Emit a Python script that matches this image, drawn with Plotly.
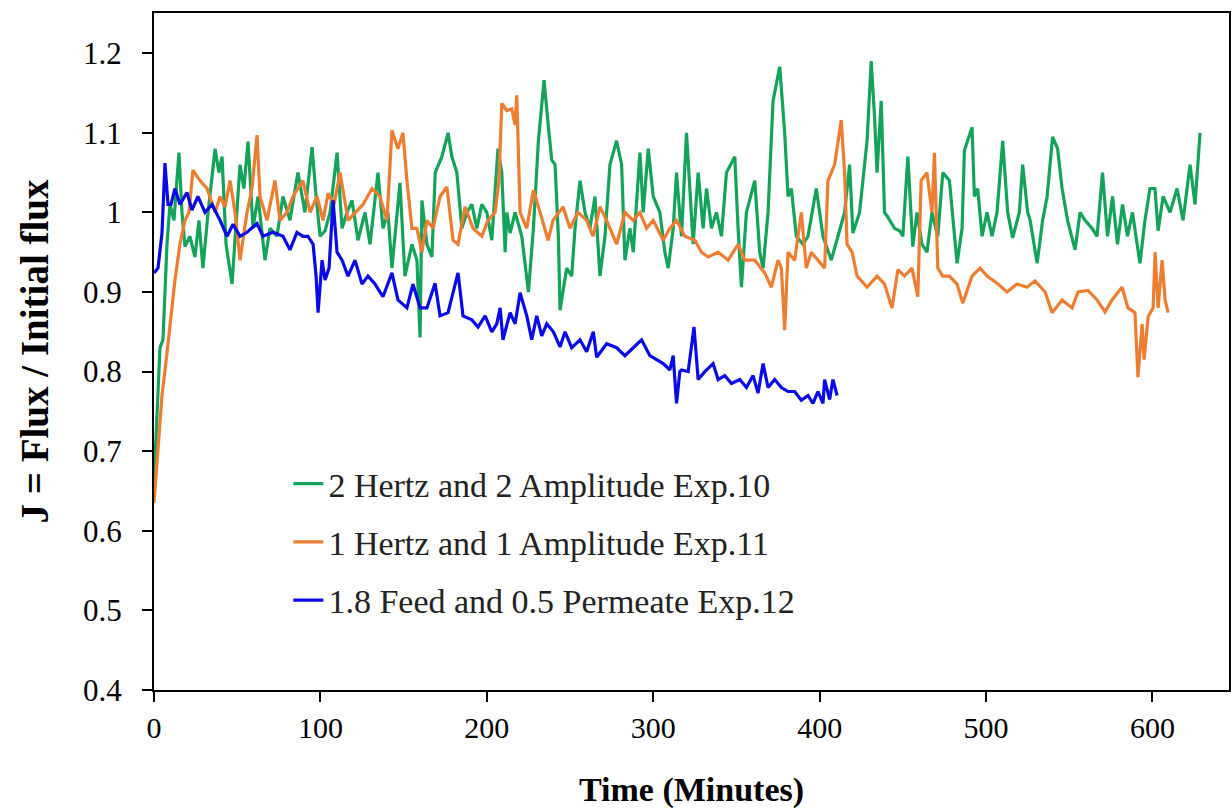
import plotly.graph_objects as go

# ---- Exp.10 : 2 Hertz and 2 Amplitude (green) ----
green_t = [0, 1.2, 3.6, 5.4, 7.8, 9.6, 12, 15, 16.8, 18.6, 21.6, 24.6, 27, 29.4, 32.5, 36.7, 39, 40.9, 43.3, 46.9,
           49.3, 51.7, 54, 56.5, 59.5, 62.5, 66.7, 69.7, 73.9, 77.5, 81.7, 86.5, 90.7, 95, 97.4, 99.8, 102.8, 105.8,
           110, 113, 116, 119, 122.6, 126.8, 129.8, 134.6, 137.6, 140.6, 143, 147.8, 150.8, 155, 158, 159.9, 161,
           164, 167, 169, 173, 176.7, 179, 182, 185, 188, 191, 194, 197, 200, 203, 206.7, 209, 211, 212, 214, 217,
           221, 225, 228, 231, 234.4, 236.8, 239, 241, 243, 244, 246.4, 248, 251, 253, 256, 259, 262, 265, 268,
           271, 274, 278, 281, 283, 286, 288, 292, 294, 297, 300, 304, 307, 309, 312, 314, 317, 320, 322, 324,
           327, 330, 332, 335, 338, 341, 344, 349, 351, 353, 356, 361, 364, 366, 369, 372, 376, 379, 381, 383,
           386, 390, 393, 398, 402, 407, 411, 415, 418, 420, 424, 428.5, 431, 433, 434.5, 437, 439, 441, 445,
           448, 450, 453, 456, 458.5, 461.5, 464.5, 467.5, 471, 474, 478, 482.6, 485.6, 487, 491.6, 493, 495,
           497.6, 500.6, 503.6, 506.6, 510, 513, 516, 520, 522, 525, 526.5, 530.7, 534, 536.7, 540, 543, 545.7,
           549, 553.5, 556.5, 559.5, 563.7, 566.7, 570, 573, 576, 579, 582, 585, 588, 592.5, 595.5, 598.5, 601.5,
           603.4, 606.4, 610.6, 614.8, 618.4, 622.6, 625.6, 628.6]
green_j = [0.66, 0.72, 0.83, 0.84, 0.96, 1.01, 0.99, 1.075, 1.0, 0.957, 0.97, 0.944, 0.99, 0.93, 1.0, 1.08, 1.05,
           1.07, 0.96, 0.91, 0.99, 1.06, 1.03, 1.089, 0.98, 1.02, 0.94, 0.98, 0.97, 1.02, 0.99, 1.05, 1.0, 1.082,
           1.02, 0.97, 0.977, 1.0, 1.075, 0.98, 1.0, 1.015, 0.965, 1.0, 0.96, 1.05, 0.98, 1.0, 0.93, 1.037, 0.92,
           0.96, 0.94, 0.843, 1.015, 0.96, 0.944, 1.05, 1.07, 1.10, 1.07, 1.05, 0.98, 1.0, 1.01, 0.98, 1.01, 1.0,
           0.965, 1.08, 1.05, 0.95, 1.0, 0.974, 1.0, 0.97, 0.90, 0.98, 1.09, 1.166, 1.112, 1.066, 1.06, 0.97,
           0.877, 0.91, 0.93, 0.92, 0.98, 1.04, 1.0, 0.98, 1.02, 0.92, 0.97, 1.06, 1.09, 1.06, 0.94, 0.98, 0.95,
           1.075, 1.0, 1.08, 1.02, 1.0, 0.95, 0.93, 0.98, 1.05, 0.97, 1.10, 1.03, 0.96, 1.05, 0.98, 1.03, 0.98,
           1.0, 0.97, 1.05, 1.07, 0.98, 0.906, 1.0, 1.04, 0.95, 0.93, 1.0, 1.14, 1.183, 1.1, 1.02, 1.03, 0.97,
           0.96, 0.97, 1.03, 0.97, 0.94, 0.97, 1.0, 1.06, 0.974, 1.0, 1.09, 1.19, 1.12, 1.05, 1.14, 1.0, 0.994,
           0.98, 0.977, 0.97, 1.07, 0.957, 1.0, 0.96, 0.95, 1.0, 0.97, 1.05, 1.04, 0.936, 0.98, 1.078, 1.107,
           1.02, 1.03, 0.97, 1.0, 0.97, 1.0, 1.09, 1.0, 0.968, 1.0, 1.06, 1.0, 0.99, 0.936, 0.99, 1.02, 1.095,
           1.08, 1.03, 0.99, 0.953, 1.0, 0.99, 0.98, 0.97, 1.05, 0.97, 1.02, 0.96, 1.01, 0.97, 1.0, 0.936, 0.99,
           1.03, 1.03, 0.977, 1.02, 1.0, 1.03, 0.99, 1.06, 1.01, 1.10]

# ---- Exp.11 : 1 Hertz and 1 Amplitude (orange) ----
orange_t = [0, 2.4, 4.8, 7.8, 10.2, 12.6, 15.6, 18.6, 21, 23.4, 27.6, 31.9, 36.7, 39.7, 42.7, 45.7, 48.7, 51.7,
            55.9, 58.9, 61.9, 63.7, 67.9, 72.7, 75.7, 79.9, 83.5, 89.5, 93.8, 98, 101.6, 104.6, 108.2, 111.8,
            116.6, 120.8, 125.6, 131, 135.8, 140, 143, 146.6, 149.6, 152, 155, 158, 161, 164, 167.7, 171.9, 176,
            179.7, 182.7, 186.9, 191.7, 197, 200.7, 205, 207.3, 209, 212, 215, 217, 218, 220, 224, 228, 232,
            236.8, 239.8, 245.8, 250, 254.8, 260, 263.8, 268, 272, 278, 283, 287.9, 292, 296, 300, 306, 310, 314,
            319, 325, 329, 333, 339, 345, 351, 355, 361, 367, 371, 375, 377, 379, 381, 385, 389, 392, 395, 399,
            403, 405, 409, 413, 415, 416.5, 419.5, 422.5, 428.5, 434.5, 439, 443.5, 447, 451, 455.5, 459, 461,
            464.5, 467.5, 469, 471, 474, 478, 482.6, 486, 491.6, 496.4, 500.6, 506.6, 512.6, 518.6, 524.6, 529.4,
            535.5, 539.7, 545.7, 551.7, 555.3, 561.3, 566.7, 571.5, 575.7, 581.7, 585.3, 589.5, 591.3, 593.8, 595,
            597.4, 600.4, 601.6, 603.4, 605.8, 607.6, 609.4]
orange_j = [0.635, 0.70, 0.77, 0.823, 0.87, 0.915, 0.96, 0.99, 1.0, 1.053, 1.04, 1.03, 1.0, 1.02, 1.007, 1.04,
            1.0, 0.94, 1.0, 1.03, 1.097, 1.02, 0.99, 1.04, 0.99, 1.0, 1.02, 1.04, 1.0, 1.02, 0.99, 1.024, 1.01,
            1.05, 0.99, 1.0, 1.01, 1.03, 1.02, 0.99, 1.103, 1.08, 1.1, 1.04, 0.98, 0.98, 0.95, 0.99, 0.98, 1.02,
            1.032, 0.965, 0.96, 1.007, 0.98, 0.97, 0.99, 1.0, 1.04, 1.137, 1.128, 1.13, 1.11, 1.147, 1.0, 0.98,
            1.028, 1.0, 0.965, 0.99, 1.007, 0.98, 1.0, 0.99, 0.97, 1.007, 0.99, 0.96, 1.0, 0.99, 1.0, 0.98, 0.99,
            0.965, 0.98, 0.99, 0.97, 0.965, 0.95, 0.944, 0.95, 0.94, 0.96, 0.94, 0.94, 0.924, 0.906, 0.94, 0.93,
            0.852, 0.95, 0.94, 1.0, 0.93, 0.95, 0.94, 0.93, 1.04, 1.06, 1.116, 1.05, 0.96, 0.95, 0.92, 0.906, 0.92,
            0.91, 0.88, 0.928, 0.92, 0.93, 0.894, 1.04, 1.05, 1.0, 1.075, 0.93, 0.92, 0.92, 0.91, 0.886, 0.92,
            0.93, 0.92, 0.911, 0.90, 0.91, 0.906, 0.914, 0.90, 0.874, 0.89, 0.88, 0.9, 0.902, 0.89, 0.875, 0.89,
            0.906, 0.88, 0.874, 0.793, 0.86, 0.815, 0.869, 0.88, 0.95, 0.88, 0.94, 0.89, 0.874]

# ---- Exp.12 : 1.8 Feed and 0.5 Permeate (blue) ----
blue_t = [0, 2.4, 4.8, 6.6, 8.4, 10.2, 12.6, 15.6, 19.8, 22.8, 26.4, 30.6, 34.9, 39.7, 43.9, 47.5, 51.7, 55.9,
          61.9, 65.5, 71.5, 77.5, 81.7, 85.9, 89.5, 92.5, 95.6, 97.4, 98.6, 101, 102.8, 105.2, 107.6, 110, 113,
          116.6, 120.8, 125, 128.6, 132.8, 137.6, 143, 146.6, 152, 155.6, 159.9, 164, 168.9, 171.9, 176.7, 182.7,
          185.7, 191, 194.7, 199, 203, 206, 208, 209.7, 214, 217, 220, 224, 227, 230, 233, 236, 240, 244, 247,
          251, 256, 260, 264, 266, 272, 278, 283, 288, 293, 298, 302, 306, 310, 312, 314, 316, 317, 321, 324.5,
          327, 331, 336, 339, 343, 347, 352, 356, 360, 363, 366, 369, 373, 377, 381, 385, 389, 393, 396, 399,
          402, 403, 406, 408, 410.5]
blue_j = [0.924, 0.93, 0.974, 1.062, 1.01, 1.01, 1.03, 1.01, 1.025, 1.003, 1.02, 1.0, 1.01, 0.99, 0.97, 0.985,
          0.97, 0.975, 0.986, 0.97, 0.975, 0.97, 0.953, 0.975, 0.97, 0.97, 0.96, 0.92, 0.874, 0.94, 0.915, 0.93,
          1.015, 0.95, 0.94, 0.92, 0.94, 0.91, 0.92, 0.91, 0.894, 0.924, 0.89, 0.88, 0.91, 0.88, 0.88, 0.911,
          0.87, 0.874, 0.924, 0.87, 0.865, 0.856, 0.87, 0.85, 0.86, 0.88, 0.84, 0.874, 0.86, 0.899, 0.87, 0.84,
          0.87, 0.845, 0.86, 0.85, 0.831, 0.85, 0.83, 0.84, 0.825, 0.85, 0.818, 0.835, 0.83, 0.82, 0.83, 0.84,
          0.82, 0.815, 0.81, 0.802, 0.82, 0.76, 0.80, 0.802, 0.80, 0.856, 0.79, 0.80, 0.81, 0.79, 0.795, 0.785,
          0.79, 0.78, 0.795, 0.773, 0.81, 0.78, 0.79, 0.78, 0.775, 0.775, 0.764, 0.77, 0.76, 0.775, 0.76, 0.79,
          0.765, 0.79, 0.77]

series_names = ["2 Hertz and 2 Amplitude Exp.10",
                "1 Hertz and 1 Amplitude Exp.11",
                "1.8 Feed and 0.5 Permeate Exp.12"]
series_colors = ["#14A35A", "#ED7D31", "#0A0AE6"]

x_ticks = [0, 100, 200, 300, 400, 500, 600]
y_ticks = [0.4, 0.5, 0.6, 0.7, 0.8, 0.9, 1.0, 1.1, 1.2]

FONT = "Times New Roman, Liberation Serif, serif"

fig = go.Figure()
for name, t, j, c in zip(series_names, [green_t, orange_t, blue_t], [green_j, orange_j, blue_j], series_colors):
    fig.add_trace(go.Scatter(x=t, y=j, mode="lines", name=name, legendgroup=name,
                             line=dict(color=c, width=3.2)))

fig.update_layout(
    width=1231, height=810,
    margin=dict(l=154, r=2, t=13, b=120, autoexpand=False),
    paper_bgcolor="white", plot_bgcolor="white",
    font=dict(family=FONT, color="black"),
    showlegend=True,
    legend=dict(x=0.125, y=0.347, xanchor="left", yanchor="top",
                bgcolor="rgba(0,0,0,0)", font=dict(family=FONT, size=34, color="#222"),
                tracegroupgap=11, itemwidth=30),
)
fig.update_xaxes(range=[0, 646], tickvals=x_ticks, ticks="outside", ticklen=10, tickwidth=2,
                 tickcolor="black", showline=True, linecolor="black", linewidth=2, mirror=True,
                 showgrid=False, zeroline=False, tickfont=dict(family=FONT, size=30),
                 title=dict(text="<b>Time (Minutes)</b>", font=dict(family=FONT, size=34), standoff=34))
fig.update_yaxes(range=[0.4, 1.2505], tickvals=y_ticks, ticktext=[("%g" % v) for v in y_ticks],
                 ticks="outside", ticklen=10, tickwidth=2, ticklabelstandoff=14,
                 tickcolor="black", showline=True, linecolor="black", linewidth=2, mirror=True,
                 showgrid=False, zeroline=False, tickfont=dict(family=FONT, size=31),
                 title=dict(text="<b>J = Flux / Initial flux</b>", font=dict(family=FONT, size=39), standoff=22))

fig.write_html("out.html")
